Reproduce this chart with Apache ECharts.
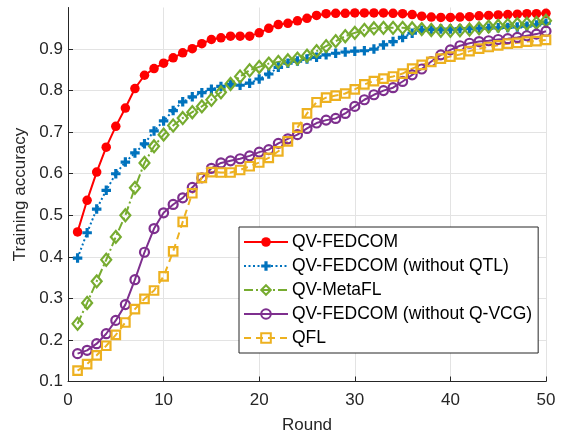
<!DOCTYPE html>
<html>
<head>
<meta charset="utf-8">
<script src="https://cdn.jsdelivr.net/npm/echarts@6/dist/echarts.min.js"></script>
<style>
  html, body { margin: 0; padding: 0; background: #fff; }
  #chart { width: 561px; height: 434px; }
</style>
</head>
<body>
<div id="chart"></div>
<script>
// Training accuracy per communication round for each scheme
const rounds = Array.from({ length: 50 }, (_, i) => i + 1);

const qvFedcom = [
  0.460, 0.536, 0.604, 0.664, 0.714, 0.758, 0.805, 0.837, 0.853, 0.866,
  0.879, 0.891, 0.901, 0.913, 0.923, 0.927, 0.931, 0.931, 0.931, 0.939,
  0.950, 0.959, 0.962, 0.968, 0.974, 0.981, 0.985, 0.986, 0.986, 0.987,
  0.987, 0.987, 0.987, 0.986, 0.985, 0.983, 0.979, 0.977, 0.976, 0.976,
  0.977, 0.978, 0.980, 0.981, 0.982, 0.983, 0.984, 0.985, 0.985, 0.986
];
const qvFedcomNoQtl = [
  0.397, 0.458, 0.515, 0.560, 0.600, 0.628, 0.650, 0.672, 0.703, 0.727,
  0.752, 0.773, 0.785, 0.795, 0.803, 0.810, 0.815, 0.813, 0.818, 0.828,
  0.840, 0.856, 0.866, 0.871, 0.876, 0.880, 0.886, 0.890, 0.893, 0.895,
  0.896, 0.900, 0.910, 0.918, 0.928, 0.938, 0.945, 0.947, 0.948, 0.948,
  0.949, 0.949, 0.950, 0.950, 0.951, 0.952, 0.953, 0.955, 0.958, 0.962
];
const qvMetaFl = [
  0.239, 0.289, 0.341, 0.393, 0.448, 0.500, 0.566, 0.626, 0.666, 0.694,
  0.716, 0.734, 0.748, 0.762, 0.778, 0.796, 0.816, 0.834, 0.849, 0.857,
  0.865, 0.869, 0.873, 0.877, 0.884, 0.895, 0.907, 0.919, 0.931, 0.939,
  0.946, 0.950, 0.951, 0.951, 0.951, 0.950, 0.948, 0.946, 0.944, 0.944,
  0.945, 0.947, 0.950, 0.954, 0.956, 0.958, 0.960, 0.961, 0.963, 0.968
];
const qvFedcomNoQvcg = [
  0.167, 0.175, 0.191, 0.215, 0.247, 0.285, 0.345, 0.411, 0.468, 0.506,
  0.526, 0.542, 0.567, 0.590, 0.613, 0.626, 0.631, 0.636, 0.643, 0.652,
  0.658, 0.673, 0.684, 0.694, 0.709, 0.722, 0.729, 0.733, 0.745, 0.762,
  0.778, 0.790, 0.800, 0.807, 0.822, 0.838, 0.852, 0.870, 0.886, 0.898,
  0.908, 0.914, 0.918, 0.920, 0.923, 0.925, 0.928, 0.932, 0.936, 0.943
];
const qfl = [
  0.126, 0.142, 0.163, 0.186, 0.212, 0.242, 0.274, 0.299, 0.319, 0.353,
  0.413, 0.484, 0.553, 0.590, 0.604, 0.603, 0.603, 0.609, 0.618, 0.627,
  0.638, 0.654, 0.678, 0.711, 0.745, 0.772, 0.783, 0.788, 0.793, 0.803,
  0.815, 0.823, 0.829, 0.834, 0.841, 0.853, 0.862, 0.869, 0.877, 0.882,
  0.887, 0.895, 0.901, 0.905, 0.909, 0.913, 0.915, 0.918, 0.919, 0.922
];

const seriesNames = [
  'QV-FEDCOM',
  'QV-FEDCOM (without QTL)',
  'QV-MetaFL',
  'QV-FEDCOM (without Q-VCG)',
  'QFL'
];

const FONT = 'Liberation Sans, Arial, Helvetica, sans-serif';
const AXIS_COLOR = '#262626';
const GRID_COLOR = '#e3e3e3';
const PLUS = 'path://M2,0h2v2h2v2h-2v2h-2v-2h-2v-2h2z';

const pair = (ys) => rounds.map((r, i) => [r, ys[i]]);

function lineSeries(name, ys, color, symbol, size, dash, hollow) {
  return {
    name: name,
    type: 'line',
    data: pair(ys),
    color: color,
    symbol: symbol,
    symbolSize: size,
    showAllSymbol: true,
    lineStyle: { color: color, width: 2, type: dash },
    itemStyle: hollow
      ? { color: 'rgba(255,255,255,0)', borderColor: color, borderWidth: 2.2 }
      : { color: color, borderWidth: 0 },
    emphasis: { disabled: true },
    animation: false
  };
}

const chart = echarts.init(document.getElementById('chart'), null, { renderer: 'canvas' });

chart.setOption({
  backgroundColor: '#ffffff',
  animation: false,
  textStyle: { fontFamily: FONT },
  grid: {
    left: 68, right: 15, top: 7.5, bottom: 52.5,
    containLabel: false,
    outerBoundsMode: 'none'
  },
  xAxis: {
    type: 'value',
    min: 0,
    max: 50,
    interval: 10,
    name: 'Round',
    nameLocation: 'middle',
    nameGap: 35,
    nameTextStyle: { color: AXIS_COLOR, fontSize: 17, fontFamily: FONT },
    axisLine: { lineStyle: { color: AXIS_COLOR, width: 1 } },
    axisTick: { inside: true, length: 5, lineStyle: { color: AXIS_COLOR } },
    axisLabel: { color: AXIS_COLOR, fontSize: 17, margin: 10, fontFamily: FONT },
    splitLine: { show: true, lineStyle: { color: GRID_COLOR, width: 1 } }
  },
  yAxis: {
    type: 'value',
    min: 0.1,
    max: 1.0,
    interval: 0.1,
    name: 'Training accuracy',
    nameLocation: 'middle',
    nameGap: 33,
    nameRotate: 90,
    nameTextStyle: { color: AXIS_COLOR, fontSize: 17, fontFamily: FONT },
    axisLine: { show: true, lineStyle: { color: AXIS_COLOR, width: 1 } },
    axisTick: { show: true, inside: true, length: 5, lineStyle: { color: AXIS_COLOR } },
    axisLabel: {
      color: AXIS_COLOR, fontSize: 17, margin: 5, fontFamily: FONT,
      showMaxLabel: false,
      formatter: (v) => v.toFixed(1)
    },
    splitLine: { show: true, showMaxLine: false, lineStyle: { color: GRID_COLOR, width: 1 } }
  },
  legend: {
    orient: 'vertical',
    left: 239,
    top: 227,
    padding: [6, 6, 6, 4],
    itemGap: 6,
    itemWidth: 44,
    itemHeight: 12,
    backgroundColor: '#ffffff',
    borderColor: AXIS_COLOR,
    borderWidth: 1,
    borderRadius: 0,
    textStyle: { color: '#000', fontSize: 17.5, fontFamily: FONT, padding: [0, 0, 0, -1] },
    data: seriesNames
  },
  series: [
    lineSeries(seriesNames[0], qvFedcom, '#ff0000', 'circle', 9.5, 'solid', false),
    lineSeries(seriesNames[1], qvFedcomNoQtl, '#0072bd', PLUS, 9.5, [2, 2.5], false),
    lineSeries(seriesNames[2], qvMetaFl, '#77ac30', 'diamond', [10, 12], [9, 3, 2, 3], true),
    lineSeries(seriesNames[3], qvFedcomNoQvcg, '#7e2f8e', 'circle', 9, 'solid', true),
    lineSeries(seriesNames[4], qfl, '#edb120', 'rect', 8.5, [7, 5], true)
  ]
});
</script>
</body>
</html>
